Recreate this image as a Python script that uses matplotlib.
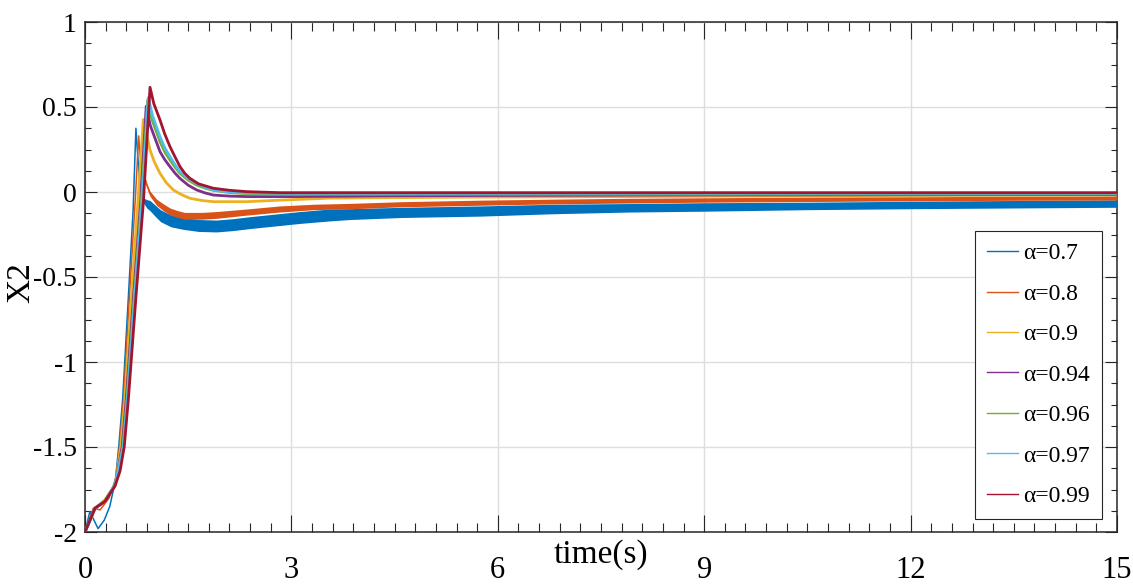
import matplotlib
matplotlib.use('Agg')
import matplotlib.pyplot as plt
from matplotlib.ticker import MultipleLocator, FixedLocator

#----------Data----------#

labels = ['α=0.7', 'α=0.8', 'α=0.9', 'α=0.94', 'α=0.96', 'α=0.97', 'α=0.99']
colors = ['#0072BD', '#D95319', '#EDB120', '#7E2F8E', '#77AC30', '#4DBEEE', '#A2142F']

t_07 = [0, 0.07, 0.19, 0.28, 0.36, 0.44, 0.49, 0.547, 0.63, 0.70, 0.74, 0.76, 0.775, 0.80, 0.85, 0.90,
        0.945, 1.02, 1.1, 1.25, 1.43, 1.65, 1.91, 2.15, 2.4, 3.12, 3.56, 3.85, 4.6, 5.74, 6.8, 7.9, 9.0,
        10.5, 12.1, 13.5, 15]
x2_07 = [-2, -1.88, -1.98, -1.93, -1.85, -1.70, -1.50, -1.22, -0.62, -0.10, 0.375, 0.25, 0.17, 0.03,
         -0.05, -0.07, -0.08, -0.11, -0.14, -0.17, -0.185, -0.197, -0.20, -0.192, -0.18, -0.15, -0.135,
         -0.13, -0.12, -0.112, -0.10, -0.093, -0.088, -0.082, -0.076, -0.072, -0.068]
# half width of the noisy band around the alpha=0.7 curve
spread_07 = [0, 0, 0, 0, 0, 0, 0, 0, 0, 0, 0, 0, 0, 0,
             0.015, 0.025, 0.03, 0.033, 0.035, 0.035, 0.035, 0.035, 0.035, 0.035, 0.035,
             0.035, 0.035, 0.032, 0.03, 0.03, 0.028, 0.025, 0.025, 0.022, 0.022, 0.022, 0.022]

t_08 = [0, 0.12, 0.22, 0.35, 0.45, 0.50, 0.56, 0.645, 0.73, 0.78, 0.80, 0.83, 0.87, 0.90, 0.945, 1.04,
        1.14, 1.24, 1.35, 1.45, 1.7, 1.91, 2.35, 2.83, 3.32, 3.85, 4.6, 5.74, 6.8, 7.9, 9.0, 10.5, 12.1,
        13.5, 15]
x2_08 = [-2, -1.86, -1.87, -1.80, -1.68, -1.50, -1.22, -0.62, -0.05, 0.33, 0.22, 0.15, 0.08, 0.04, -0.01,
         -0.06, -0.09, -0.115, -0.13, -0.14, -0.14, -0.135, -0.118, -0.10, -0.088, -0.083, -0.072, -0.063,
         -0.056, -0.051, -0.047, -0.043, -0.040, -0.037, -0.035]
spread_08 = [0, 0, 0, 0, 0, 0, 0, 0, 0, 0, 0, 0,
             0.008, 0.01, 0.015, 0.018, 0.02, 0.02, 0.02, 0.02, 0.02, 0.02,
             0.018, 0.018, 0.016, 0.016, 0.015, 0.015, 0.014, 0.014, 0.013, 0.013, 0.012, 0.012, 0.012]

t_09 = [0, 0.15, 0.29, 0.44, 0.52, 0.58, 0.675, 0.77, 0.848, 0.9, 0.945, 1.01, 1.09, 1.18, 1.284,
        1.4, 1.526, 1.7, 1.865, 2.35, 2.83, 3.56, 4.6, 5.74, 7.9, 10.5, 12.1, 15]
x2_09 = [-2, -1.86, -1.81, -1.72, -1.50, -1.22, -0.62, -0.05, 0.427, 0.33, 0.247, 0.175, 0.110, 0.055,
         0.012, -0.015, -0.037, -0.05, -0.057, -0.057, -0.048, -0.036, -0.033, -0.03, -0.027, -0.022,
         -0.02, -0.017]

t_094 = [0, 0.145, 0.29, 0.44, 0.54, 0.60, 0.705, 0.81, 0.89, 0.95, 1.09, 1.16, 1.235, 1.31, 1.38,
         1.5, 1.623, 1.75, 1.865, 2.1, 2.35, 3.05, 4.5, 7.9, 15]
x2_094 = [-2, -1.86, -1.82, -1.72, -1.50, -1.22, -0.62, -0.05, 0.505, 0.39, 0.237, 0.19, 0.149, 0.11,
          0.080, 0.04, 0.012, -0.006, -0.018, -0.024, -0.027, -0.027, -0.022, -0.018, -0.015]

t_096 = [0, 0.145, 0.29, 0.44, 0.55, 0.61, 0.715, 0.82, 0.91, 0.97, 1.09, 1.16, 1.235, 1.31, 1.38,
         1.5, 1.623, 1.75, 1.865, 2.1, 2.35, 3.0, 7.9, 15]
x2_096 = [-2, -1.86, -1.82, -1.72, -1.50, -1.22, -0.62, -0.05, 0.54, 0.43, 0.296, 0.235, 0.188, 0.145,
          0.110, 0.07, 0.041, 0.022, 0.01, -0.003, -0.01, -0.014, -0.013, -0.012]

t_097 = [0, 0.145, 0.29, 0.44, 0.555, 0.615, 0.72, 0.83, 0.92, 0.98, 1.09, 1.16, 1.235, 1.31, 1.38,
         1.5, 1.623, 1.75, 1.865, 2.1, 2.35, 3.0, 15]
x2_097 = [-2, -1.86, -1.82, -1.72, -1.50, -1.22, -0.62, -0.05, 0.555, 0.45, 0.325, 0.26, 0.208, 0.16,
          0.120, 0.08, 0.051, 0.028, 0.012, 0.0, -0.005, -0.008, -0.008]

t_099 = [0, 0.145, 0.29, 0.436, 0.51, 0.57, 0.63, 0.74, 0.85, 0.945, 1.0, 1.09, 1.16, 1.235, 1.31,
         1.381, 1.45, 1.526, 1.65, 1.865, 2.1, 2.35, 2.834, 15]
x2_099 = [-2, -1.86, -1.82, -1.73, -1.64, -1.50, -1.22, -0.62, -0.05, 0.616, 0.52, 0.424, 0.34, 0.267,
          0.205, 0.149, 0.11, 0.080, 0.048, 0.022, 0.01, 0.002, -0.004, -0.004]

x_ticks = [0, 3, 6, 9, 12, 15]
y_ticks = [-2, -1.5, -1, -0.5, 0, 0.5, 1]
y_tick_labels = ['-2', '-1.5', '-1', '-0.5', '0', '0.5', '1']

#----------Plot----------#

plt.rcParams['font.family'] = ['Liberation Serif', 'DejaVu Serif']
plt.rcParams['axes.unicode_minus'] = False

fig = plt.figure(figsize=(11.33, 5.87), dpi=100)
ax = fig.add_axes([85 / 1133, 55 / 587, 1032 / 1133, 510 / 587])

series = [(t_07, x2_07), (t_08, x2_08), (t_09, x2_09), (t_094, x2_094),
          (t_096, x2_096), (t_097, x2_097), (t_099, x2_099)]
spreads = {0: spread_07, 1: spread_08}

for i, (t, x2) in enumerate(series):
    lw = 1.1 if i < 2 else 2.0
    ax.plot(t, x2, color=colors[i], lw=lw, label=labels[i], zorder=3 + i)
    if i in spreads:
        sp = spreads[i]
        ax.fill_between(t, [a - b for a, b in zip(x2, sp)], [a + b for a, b in zip(x2, sp)],
                        color=colors[i], lw=0, zorder=3 + i)

ax.set_xlim(0, 15)
ax.set_ylim(-2, 1)
ax.xaxis.set_major_locator(FixedLocator(x_ticks))
ax.xaxis.set_minor_locator(MultipleLocator(0.3))
ax.set_yticks(y_ticks)
ax.set_yticklabels(y_tick_labels)
ax.yaxis.set_minor_locator(MultipleLocator(0.125))

ax.grid(True, which='major', color='#dedede', lw=1.0)
ax.set_axisbelow(True)

for s in ax.spines.values():
    s.set_color('#262626')
    s.set_linewidth(1.1)

ax.tick_params(which='both', direction='in', top=True, right=True, colors='#262626', width=0.8)
ax.tick_params(axis='x', which='major', length=12, pad=17, labelsize=22)
ax.tick_params(axis='x', which='minor', length=6.5)
ax.tick_params(axis='y', which='major', length=8.5, pad=6, labelsize=20)
ax.tick_params(axis='y', which='minor', length=4.3)
for lab in ax.get_xticklabels() + ax.get_yticklabels():
    lab.set_color('black')

ax.set_xlabel('time(s)', fontsize=24)
ax.xaxis.set_label_coords(0.5, -0.015)
ax.set_ylabel('X2', fontsize=24, va='center')
ax.yaxis.set_label_coords(-0.062, 0.49)

leg = ax.legend(loc='upper right', bbox_to_anchor=(0.9855, 0.59), borderaxespad=0, fontsize=17,
                frameon=True, fancybox=False, framealpha=1, edgecolor='#262626',
                handlelength=1.3, handletextpad=0.25, labelspacing=0.8, borderpad=0.5)
leg.get_frame().set_linewidth(0.8)
for line in leg.get_lines():
    line.set_linewidth(1.0)

plt.savefig('out.png', dpi=100)
